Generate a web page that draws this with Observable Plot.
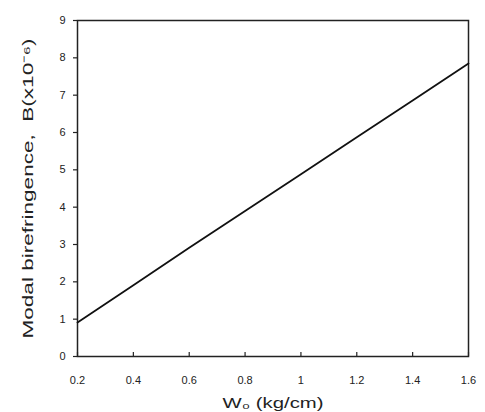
<!DOCTYPE html>
<html>
<head>
<meta charset="utf-8">
<script src="https://cdn.jsdelivr.net/npm/d3@7"></script>
<script src="https://cdn.jsdelivr.net/npm/@observablehq/plot@0.6"></script>
<style>
  html, body { margin: 0; padding: 0; background: #fff; }
  #chart svg { display: block; }
</style>
</head>
<body>
<div id="chart"></div>
<script>
const wValues = [0.2, 0.4, 0.6, 0.8, 1.0, 1.2, 1.4, 1.6];
const bValues = [0.91, 1.91, 2.91, 3.90, 4.88, 5.87, 6.86, 7.85];
const xTicks = [0.2, 0.4, 0.6, 0.8, 1.0, 1.2, 1.4, 1.6];
const xTickLabels = ["0.2", "0.4", "0.6", "0.8", "1", "1.2", "1.4", "1.6"];
const yTicks = [0, 1, 2, 3, 4, 5, 6, 7, 8, 9];
const xDomain = [0.2, 1.6];
const yDomain = [0, 9];
const xTitle = "W\u2080 (kg/cm)";
const yTitle = "Modal birefringence,  B(x10\u207B\u2076)";

const data = wValues.map((w, i) => ({w, b: bValues[i]}));
const fmtX = d => xTickLabels[xTicks.indexOf(d)] ?? String(d);

const chart = Plot.plot({
  width: 485,
  height: 412,
  marginLeft: 77,
  marginRight: 17,
  marginTop: 20,
  marginBottom: 56,
  style: {fontFamily: "'Liberation Sans', Arial, sans-serif", color: "#222", background: "#fff"},
  x: {domain: xDomain},
  y: {domain: yDomain},
  marks: [
    Plot.axisX(xTicks, {anchor: "bottom", tickSize: 0, tickPadding: 20, tickFormat: fmtX, fontSize: 11,
      label: xTitle, labelAnchor: "center", labelOffset: 51, labelArrow: "none"}),
    Plot.axisY(yTicks, {anchor: "left", tickSize: 0, tickPadding: 12, fontSize: 11,
      label: yTitle, labelAnchor: "center", labelOffset: 55, labelArrow: "none"}),
    // inward tick marks
    Plot.ruleX(xTicks, {x: d => d, y1: yDomain[0], y2: yDomain[0], insetBottom: 4, stroke: "#222", strokeWidth: 1.2}),
    Plot.ruleY(yTicks, {y: d => d, x1: xDomain[0], x2: xDomain[0], insetLeft: -4, stroke: "#222", strokeWidth: 1.2}),
    Plot.frame({stroke: "#222", strokeWidth: 1.5}),
    Plot.line(data, {x: "w", y: "b", stroke: "#111", strokeWidth: 1.8})
  ]
});

document.getElementById("chart").appendChild(chart);

const svg = d3.select(chart);
svg.selectAll("[aria-label='x-axis label'] text")
  .style("font-size", "14px")
  .attr("textLength", 101).attr("lengthAdjust", "spacingAndGlyphs");
svg.selectAll("[aria-label='y-axis label'] text")
  .style("font-size", "15px")
  .attr("textLength", 300).attr("lengthAdjust", "spacingAndGlyphs");
</script>
</body>
</html>
